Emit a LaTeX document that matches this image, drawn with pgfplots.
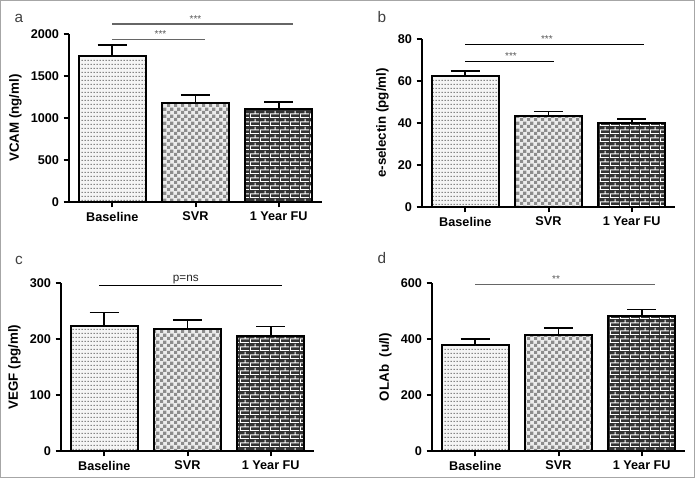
\documentclass[border=0pt]{standalone}
\usepackage{fontspec}
\setmainfont{Liberation Sans}
\usepackage{pgfplots}
\pgfplotsset{compat=1.18}
\usetikzlibrary{patterns}

% fill patterns of the three groups
\pgfdeclarepatternformonly{pdots}{\pgfpointorigin}{\pgfpoint{2.25pt}{3pt}}{\pgfpoint{2.25pt}{3pt}}{%
  \pgfpathrectangle{\pgfpoint{0.7pt}{1.1pt}}{\pgfpoint{0.85pt}{0.85pt}}%
  \pgfusepath{fill}}
\pgfdeclarepatternformonly{pcheck}{\pgfpointorigin}{\pgfpoint{5pt}{5pt}}{\pgfpoint{5pt}{5pt}}{%
  \pgfpathrectangle{\pgfpointorigin}{\pgfpoint{2.5pt}{2.5pt}}%
  \pgfpathrectangle{\pgfpoint{2.5pt}{2.5pt}}{\pgfpoint{2.5pt}{2.5pt}}%
  \pgfusepath{fill}}
\pgfdeclarepatternformonly{pbricks}{\pgfpointorigin}{\pgfpoint{7.5pt}{6pt}}{\pgfpoint{7.5pt}{6pt}}{%
  \pgfpathrectangle{\pgfpointorigin}{\pgfpoint{7.5pt}{0.8pt}}%
  \pgfpathrectangle{\pgfpoint{0pt}{3pt}}{\pgfpoint{7.5pt}{0.8pt}}%
  \pgfpathrectangle{\pgfpoint{0pt}{0.8pt}}{\pgfpoint{0.8pt}{2.2pt}}%
  \pgfpathrectangle{\pgfpoint{3.75pt}{3.8pt}}{\pgfpoint{0.8pt}{2.2pt}}%
  \pgfusepath{fill}}

\tikzset{
  star/.style={above, inner sep=1pt, font=\fontsize{7.5}{8}\selectfont, text=black!65},
  letter/.style={font=\fontsize{11.5}{12}\selectfont, text=black!75},
}

\pgfplotsset{
  panel/.style={
    scale only axis, width=189.75pt, height=126pt,
    anchor=south west,
    axis lines=left, axis line style={line width=1.5pt,-},
    xmin=-0.52, xmax=2.52, ymin=0,
    xtick={0,1,2}, xticklabels={Baseline,SVR,1 Year FU},
    tick style={line width=1.5pt,black},
    tick align=outside, major tick length=4pt,
    tick label style={font=\bfseries\fontsize{9.5}{11}\selectfont},
    ylabel style={font=\bfseries\fontsize{10}{12}\selectfont},
    /pgf/number format/assume math mode=true,
    /pgf/number format/1000 sep={},
    clip=false,
  },
  bar/.style={ybar, bar width=0.81, bar shift=0pt, draw=black, line width=1.5pt,
    error bars/.cd, y dir=plus, y explicit,
    error bar style={line width=1.2pt},
    error mark options={rotate=90, mark size=11pt, line width=1.2pt}},
  g1/.style={fill=gray!8, postaction={pattern=pdots, pattern color=black!70}, bar},
  g2/.style={fill=gray!15, postaction={pattern=pcheck, pattern color=gray!90}, bar},
  g3/.style={fill=black!80, postaction={pattern=pbricks, pattern color=white}, bar},
  sig/.style={sharp plot, no marks, line width=0.8pt},
}

\begin{document}
\begin{tikzpicture}
\draw[gray!70, line width=0.8pt] (0.4pt,-0.4pt) rectangle (520.85pt,-358.1pt);

\node[letter] at (14.25pt,-13.5pt) {a};
\node[letter] at (286.5pt,-12.75pt) {b};
\node[letter] at (14.25pt,-195pt) {c};
\node[letter] at (286.5pt,-193.5pt) {d};

% a: VCAM
\begin{axis}[panel, at={(51.75pt,-151.5pt)}, ymax=2000, ytick={0,500,...,2000},
  ylabel={VCAM (ng/ml)}]
\addplot[g1] coordinates {(0,1738) +- (0,131)};
\addplot[g2] coordinates {(1,1182) +- (0,92)};
\addplot[g3] coordinates {(2,1107) +- (0,80)};
\addplot[sig, black!60] coordinates {(0,2119) (2.17,2119)};
\addplot[sig, black!60] coordinates {(0,1940) (1.12,1940)};
\node[star] at (axis cs:1.0,2119) {***};
\node[star] at (axis cs:0.58,1940) {***};
\end{axis}

% b: e-selectin
\begin{axis}[panel, at={(316.5pt,-155.25pt)}, ymax=80, ytick={0,20,...,80},
  ylabel={e-selectin (pg/ml)}]
\addplot[g1] coordinates {(0,62.4) +- (0,2.4)};
\addplot[g2] coordinates {(1,43.5) +- (0,1.9)};
\addplot[g3] coordinates {(2,40.2) +- (0,1.7)};
\addplot[sig, black] coordinates {(0,77.6) (2.15,77.6)};
\addplot[sig, black] coordinates {(0,69.5) (1.06,69.5)};
\node[star] at (axis cs:0.98,77.6) {***};
\node[star] at (axis cs:0.55,69.5) {***};
\end{axis}

% c: VEGF
\begin{axis}[panel, at={(45.75pt,-338.25pt)}, ymax=300, ytick={0,100,...,300},
  ylabel={VEGF (pg/ml)}]
\addplot[g1] coordinates {(0,223) +- (0,24)};
\addplot[g2] coordinates {(1,217) +- (0,17)};
\addplot[g3] coordinates {(2,205) +- (0,17)};
\addplot[sig, black] coordinates {(-0.06,295) (2.14,295)};
\node[star, font=\fontsize{8.8}{10}\selectfont, text=black!85] at (axis cs:0.98,295) {p=ns};
\end{axis}

% d: OLAb
\begin{axis}[panel, at={(324pt,-338.25pt)}, ymax=600, ytick={0,200,...,600},
  ylabel={OLAb~~(u/l)}]
\addplot[g1] coordinates {(0,377) +- (0,22)};
\addplot[g2] coordinates {(1,414) +- (0,25)};
\addplot[g3] coordinates {(2,482) +- (0,24)};
\addplot[sig, black!60] coordinates {(0,596) (2.16,596)};
\node[star] at (axis cs:0.97,596) {**};
\end{axis}
\end{tikzpicture}
\end{document}
